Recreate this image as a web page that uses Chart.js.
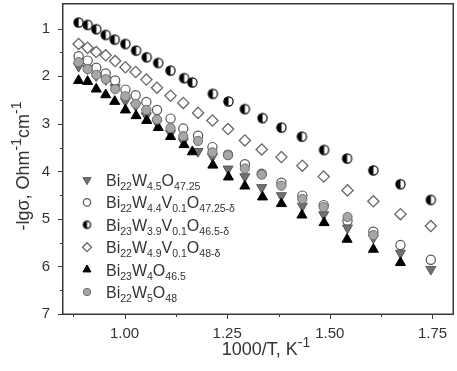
<!DOCTYPE html>
<html>
<head>
<meta charset="utf-8">
<script src="https://cdn.jsdelivr.net/npm/chart.js@4.4.0/dist/chart.umd.min.js"></script>
<style>
  html, body { margin: 0; padding: 0; background: #fff; overflow: hidden; }
</style>
</head>
<body>
<canvas id="chart" width="457" height="371"></canvas>
<script>
// values (x = 1000/T, y = -lg sigma)
const xTicks = [1.00, 1.25, 1.50, 1.75];
const yTicks = [1, 2, 3, 4, 5, 6, 7];

// two temperature sets used by the samples
const xA = [0.888, 0.910, 0.931, 0.954, 0.976, 1.002, 1.028, 1.054, 1.082, 1.112, 1.145, 1.165,
            1.215, 1.253, 1.293, 1.336, 1.382, 1.432, 1.486, 1.542, 1.606, 1.672, 1.746];
const xB = [0.888, 0.910, 0.931, 0.954, 0.977, 1.002, 1.027, 1.053, 1.079, 1.112, 1.143, 1.179,
            1.214, 1.252, 1.293, 1.334, 1.382, 1.433, 1.485, 1.543, 1.606, 1.672, 1.746];

const yW45 = [1.79, 1.84, 1.99, 2.07, 2.24, 2.52, 2.62, 2.83, 2.98, 3.20, 3.37, 3.58,
              3.69, 3.95, 4.11, 4.34, 4.51, 4.73, 4.91, 5.19, 5.40, 5.72, 6.06];
const yW44V = [1.58, 1.67, 1.82, 1.94, 2.09, 2.28, 2.40, 2.54, 2.71, 2.89, 3.10, 3.25,
               3.49, 3.65, 3.85, 4.05, 4.24, 4.51, 4.71, 5.04, 5.27, 5.55, 5.86];
const yW39V = [0.87, 0.92, 1.01, 1.13, 1.23, 1.32, 1.46, 1.60, 1.72, 1.88, 2.04, 2.13,
               2.37, 2.53, 2.69, 2.88, 3.08, 3.27, 3.55, 3.73, 3.98, 4.27, 4.60];
const yW49V = [1.32, 1.40, 1.49, 1.56, 1.68, 1.81, 1.91, 2.07, 2.24, 2.41, 2.56, 2.77,
               2.93, 3.11, 3.35, 3.54, 3.70, 3.88, 4.11, 4.40, 4.63, 4.90, 5.15];
const yW4 = [2.09, 2.11, 2.27, 2.39, 2.53, 2.71, 2.83, 2.93, 3.08, 3.27, 3.44, 3.59,
             3.87, 4.12, 4.31, 4.54, 4.68, 4.92, 5.08, 5.43, 5.64, 5.92];
const yW5 = [1.70, 1.85, 1.97, 2.06, 2.27, 2.42, 2.58, 2.71, 2.91, 3.09, 3.26, 3.36,
             3.60, 3.66, 3.94, 4.07, 4.30, 4.58, 4.75, 4.96, 5.34];

// legend labels, {..} after _ is subscript
const legendLabels = [
  'Bi_{22}W_{4.5}O_{47.25}',
  'Bi_{22}W_{4.4}V_{0.1}O_{47.25-δ}',
  'Bi_{23}W_{3.9}V_{0.1}O_{46.5-δ}',
  'Bi_{22}W_{4.9}V_{0.1}O_{48-δ}',
  'Bi_{23}W_{4}O_{46.5}',
  'Bi_{22}W_{5}O_{48}'
];
const xTitle = '1000/T, K^{-1}';
const yTitle = '-lgσ, Ohm^{-1}cm^{-1}';

const FONT = '"Liberation Sans", Arial, sans-serif';
const AXIS = '#3a3a3a';

function halfCircle(r) {
  const c = document.createElement('canvas');
  const s = Math.ceil(r * 2 + 3);
  c.width = c.height = s;
  const g = c.getContext('2d');
  const m = s / 2;
  g.beginPath(); g.arc(m, m, r, 0, Math.PI * 2); g.fillStyle = '#fff'; g.fill();
  g.beginPath(); g.arc(m, m, r, Math.PI / 2, Math.PI * 1.5); g.closePath(); g.fillStyle = '#000'; g.fill();
  g.beginPath(); g.arc(m, m, r, 0, Math.PI * 2); g.lineWidth = 1.2; g.strokeStyle = '#000'; g.stroke();
  return c;
}

const pts = (xs, ys) => ys.map((y, i) => ({ x: xs[i], y: y }));

// marker styles, in legend order
const styles = [
  { pointStyle: 'triangle', rotation: 180, radius: 5.8, bg: '#707070', border: '#585858', bw: 1 },
  { pointStyle: 'circle', rotation: 0, radius: 4.6, bg: '#fff', border: '#555', bw: 1.2 },
  { pointStyle: halfCircle(4.6), small: halfCircle(3.6), rotation: 0, radius: 4.6, bg: '#000', border: '#000', bw: 0 },
  { pointStyle: 'rectRot', rotation: 0, radius: 5.6, bg: '#fff', border: '#666', bw: 1.3 },
  { pointStyle: 'triangle', rotation: 0, radius: 5.8, bg: '#000', border: '#000', bw: 1 },
  { pointStyle: 'circle', rotation: 0, radius: 4.6, bg: '#a6a6a6', border: '#707070', bw: 1 }
];
const seriesData = [pts(xB, yW45), pts(xB, yW44V), pts(xA, yW39V), pts(xB, yW49V), pts(xA, yW4), pts(xB, yW5)];

const datasets = seriesData.map((d, i) => ({
  label: legendLabels[i],
  data: d,
  pointStyle: styles[i].pointStyle,
  rotation: styles[i].rotation,
  pointRadius: styles[i].radius,
  backgroundColor: styles[i].bg,
  borderColor: styles[i].border,
  borderWidth: styles[i].bw,
  showLine: false
}));
// draw order: first listed ends up on top
const drawOrder = [5, 4, 0, 1, 3, 2];
drawOrder.forEach((idx, k) => { datasets[idx].order = k; });

function richText(ctx, str, x, y, size, align, subSize, subDy, supDy) {
  const parts = [];
  const re = /([_^])\{([^}]*)\}/g;
  let last = 0, m;
  while ((m = re.exec(str))) {
    if (m.index > last) parts.push({ t: str.slice(last, m.index), k: '' });
    parts.push({ t: m[2], k: m[1] });
    last = re.lastIndex;
  }
  if (last < str.length) parts.push({ t: str.slice(last), k: '' });
  const fontOf = k => (k ? subSize : size) + 'px ' + FONT;
  let w = 0;
  parts.forEach(p => { ctx.font = fontOf(p.k); p.w = ctx.measureText(p.t).width; w += p.w; });
  let cx = align === 'center' ? x - w / 2 : x;
  ctx.textAlign = 'left';
  ctx.textBaseline = 'alphabetic';
  parts.forEach(p => {
    ctx.font = fontOf(p.k);
    const dy = p.k === '_' ? subDy : p.k === '^' ? -supDy : 0;
    ctx.fillText(p.t, cx, y + dy);
    cx += p.w;
  });
  return w;
}

const framePlugin = {
  id: 'frame',
  afterDraw(chart) {
    const { ctx, chartArea: a, scales } = chart;
    ctx.save();
    // box round the plot
    ctx.fillStyle = AXIS;
    const L = Math.round(a.left), T = Math.round(a.top), R = Math.round(a.right), B = Math.round(a.bottom);
    ctx.fillRect(L - 1, T - 1, R - L + 2, 1.5);
    ctx.fillRect(L - 1, B - 0.5, R - L + 2, 1.5);
    ctx.fillRect(L - 1, T - 1, 1.5, B - T + 2);
    ctx.fillRect(R - 0.5, T - 1, 1.5, B - T + 2);

    // major and minor ticks, outside
    ctx.strokeStyle = AXIS;
    ctx.lineWidth = 1;
    ctx.beginPath();
    xTicks.forEach((v, i) => {
      const px = Math.round(scales.x.getPixelForValue(v)) + 0.5;
      ctx.moveTo(px, B); ctx.lineTo(px, B + 5);
      const mv = i === 0 ? v - (xTicks[1] - xTicks[0]) / 2 : (v + xTicks[i - 1]) / 2;
      const mx = Math.round(scales.x.getPixelForValue(mv)) + 0.5;
      ctx.moveTo(mx, B); ctx.lineTo(mx, B + 3);
    });
    yTicks.forEach((v, i) => {
      const py = Math.round(scales.y.getPixelForValue(v)) + 0.5;
      ctx.moveTo(L, py); ctx.lineTo(L - 5, py);
      if (i > 0) {
        const my = Math.round(scales.y.getPixelForValue((v + yTicks[i - 1]) / 2)) + 0.5;
        ctx.moveTo(L, my); ctx.lineTo(L - 3, my);
      }
    });
    ctx.stroke();

    // axis titles
    ctx.fillStyle = '#333';
    richText(ctx, xTitle, (a.left + a.right) / 2 + 8, 355, 18, 'center', 14, 0, 8);
    ctx.save();
    ctx.translate(29, 166);
    ctx.rotate(-Math.PI / 2);
    richText(ctx, yTitle, 0, 0, 18, 'center', 14, 0, 8);
    ctx.restore();

    // legend
    const lx = 87, ly0 = 180, step = 22.4;
    legendLabels.forEach((lab, i) => {
      const s = styles[i];
      const y = ly0 + i * step;
      ctx.fillStyle = s.bg;
      ctx.strokeStyle = s.border;
      ctx.lineWidth = s.bw;
      const opt = {
        pointStyle: s.small || s.pointStyle,
        radius: s.radius * 0.8,
        rotation: s.rotation,
        borderWidth: s.bw
      };
      Chart.helpers.drawPoint(ctx, opt, lx, y);
      ctx.fillStyle = '#333';
      richText(ctx, lab, 106, y + 6, 16, 'left', 10.5, 4, 0);
    });
    ctx.restore();
  }
};

// no edge padding from tick labels: plot box is fixed
const noPad = s => { s.paddingTop = 0; s.paddingBottom = 0; s.paddingLeft = 0; s.paddingRight = 0; };

new Chart(document.getElementById('chart'), {
  type: 'scatter',
  data: { datasets: datasets },
  options: {
    responsive: false,
    animation: false,
    devicePixelRatio: 1,
    layout: { autoPadding: false, padding: { top: 4, right: 4, left: 0, bottom: 0 } },
    plugins: { legend: { display: false }, tooltip: { enabled: false } },
    scales: {
      x: {
        type: 'linear',
        min: 0.85,
        max: 1.80,
        grid: { display: true, drawOnChartArea: false, drawTicks: false, color: 'rgba(0,0,0,0)' },
        border: { display: false },
        afterBuildTicks: s => { s.ticks = xTicks.map(v => ({ value: v })); },
        afterFit: s => { s.height = 57; noPad(s); },
        ticks: {
          padding: 11,
          color: '#333',
          font: { family: FONT, size: 15 },
          maxRotation: 0,
          callback: v => v.toFixed(2)
        }
      },
      y: {
        type: 'linear',
        reverse: true,
        min: 0.48,
        max: 7,
        grid: { display: true, drawOnChartArea: false, drawTicks: false, color: 'rgba(0,0,0,0)' },
        border: { display: false },
        afterBuildTicks: s => { s.ticks = yTicks.map(v => ({ value: v })); },
        afterFit: s => { s.width = 63; noPad(s); },
        ticks: {
          padding: 13,
          color: '#333',
          font: { family: FONT, size: 15 },
          callback: v => String(v)
        }
      }
    }
  },
  plugins: [framePlugin]
});
</script>
</body>
</html>
